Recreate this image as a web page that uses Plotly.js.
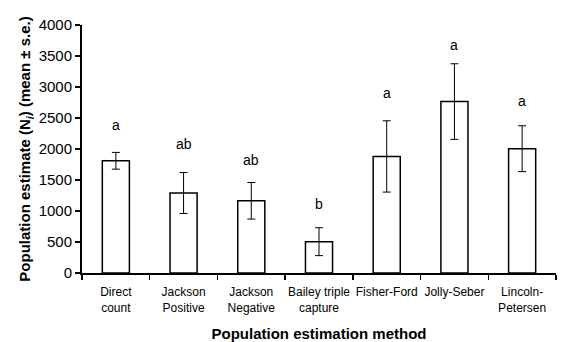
<!DOCTYPE html>
<html><head><meta charset="utf-8">
<script src="https://cdn.plot.ly/plotly-3.0.1.min.js"></script>
<style>html,body{margin:0;padding:0;background:#fff}#chart{width:566px;height:342px}</style>
</head><body><div id="chart"></div>
<script>
const categories = ["Direct<br>count","Jackson<br>Positive","Jackson<br>Negative","Bailey triple<br>capture","Fisher-Ford","Jolly-Seber","Lincoln-<br>Petersen"];
const means = [1810, 1290, 1165, 505, 1880, 2765, 2005];
const errors = [135, 330, 295, 225, 575, 610, 370];
const letters = ["a","ab","ab","b","a","a","a"];
const letterY = [2390, 2080, 1820, 1110, 2900, 3680, 2780];
const yTicks = [0,500,1000,1500,2000,2500,3000,3500,4000];

const font = {family: "Liberation Sans, Arial, sans-serif", color: "#000"};
const trace = {
  type: "bar", x: categories, y: means, width: 0.4,
  marker: {color: "#fff", line: {color: "#000", width: 1.5}},
  error_y: {type: "data", array: errors, visible: true, color: "#000", thickness: 1, width: 4},
  hoverinfo: "none"
};
const annotations = categories.map((c, i) => ({
  x: c, y: letterY[i], xref: "x", yref: "y", text: letters[i], showarrow: false,
  font: Object.assign({}, font, {size: 14})
}));
const layout = {
  width: 566, height: 342,
  margin: {l: 82, r: 10, t: 25, b: 69},
  paper_bgcolor: "#fff", plot_bgcolor: "#fff",
  showlegend: false, bargap: 0.6,
  font: font,
  xaxis: {
    type: "category", tickson: "boundaries", ticks: "outside", ticklen: 5, tickwidth: 1.5, tickcolor: "#000",
    tickangle: 0, automargin: false, ticklabelstandoff: 7,
    showline: true, linecolor: "#000", linewidth: 2, showgrid: false, zeroline: false,
    tickfont: Object.assign({}, font, {size: 12}),
    title: {text: "<b>Population estimation method</b>", font: Object.assign({}, font, {size: 15}), standoff: 14}
  },
  yaxis: {
    range: [0, 4000], tickvals: yTicks, ticktext: yTicks.map(String),
    ticks: "outside", ticklen: 5, tickwidth: 1.5, tickcolor: "#000",
    showline: true, linecolor: "#000", linewidth: 2, showgrid: false, zeroline: false,
    tickfont: Object.assign({}, font, {size: 15}),
    title: {text: "<b>Population estimate (N<sub><i>i</i></sub>) (mean ± s.e.)</b>", font: Object.assign({}, font, {size: 15}), standoff: 4}
  },
  annotations: annotations
};
Plotly.newPlot("chart", [trace], layout, {displayModeBar: false, staticPlot: true});
</script></body></html>
